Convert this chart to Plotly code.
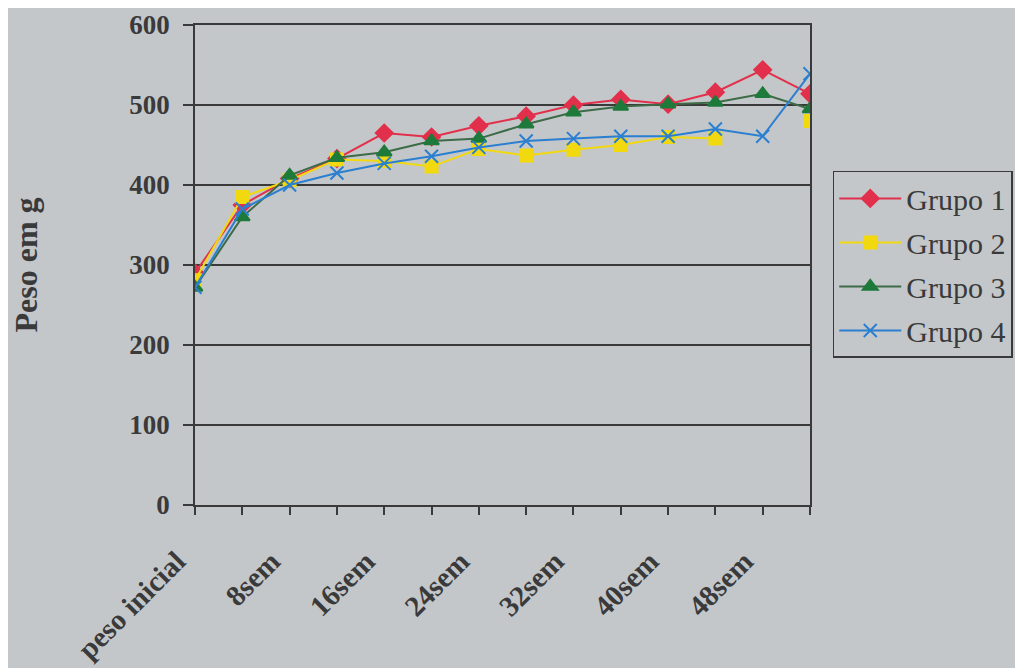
import plotly.graph_objects as go

categories = ["peso inicial", "4sem", "8sem", "12sem", "16sem", "20sem", "24sem",
              "28sem", "32sem", "36sem", "40sem", "44sem", "48sem", "52sem"]
tick_labels = ["peso inicial", "", "8sem", "", "16sem", "", "24sem",
               "", "32sem", "", "40sem", "", "48sem", ""]

grupo1 = [290, 375, 408, 433, 465, 460, 474, 486, 500, 507, 501, 516, 544, 514]
grupo2 = [281, 385, 406, 432, 430, 423, 445, 437, 444, 450, 460, 458, None, 480]
grupo3 = [272, 360, 412, 434, 441, 455, 458, 476, 491, 498, 501, 503, 514, 495]
grupo4 = [272, 370, 400, 415, 427, 436, 447, 455, 458, 461, 461, 470, 461, 539]

series = [
    ("Grupo 1", grupo1, "#E2304C", "#E2304C", "diamond", 13),
    ("Grupo 2", grupo2, "#F2D90F", "#F2D90F", "square", 12),
    ("Grupo 3", grupo3, "#3E6B47", "#1E7A3A", "triangle-up", 13),
    ("Grupo 4", grupo4, "#2A7FD0", "#2A7FD0", "x-thin-open", 13),
]

fig = go.Figure()
for name, vals, lc, mc, sym, size in series:
    fig.add_trace(go.Scatter(
        x=categories, y=vals, name=name, mode="lines+markers",
        line=dict(color=lc, width=2),
        marker=dict(symbol=sym, size=size, color=mc,
                    line=dict(color=mc, width=2)),
        connectgaps=False, legendgroup=name,
    ))

serif = "Liberation Serif"
ink = "#3a3a3a"
bg = "#C3C7CA"
fig.update_layout(
    width=1015, height=660,
    margin=dict(l=187, r=213, t=17, b=163, autoexpand=False),
    paper_bgcolor=bg, plot_bgcolor=bg,
    font=dict(family=serif, color=ink),
    showlegend=True,
    legend=dict(
        x=1.037, y=0.696, xanchor="left", yanchor="top",
        bordercolor=ink, borderwidth=1.5, bgcolor="rgba(0,0,0,0)",
        font=dict(size=30, family=serif, color=ink),
        tracegroupgap=2, itemwidth=62,
    ),
)
fig.update_xaxes(
    type="category", tickmode="array", tickvals=categories, ticktext=tick_labels,
    tickangle=-45, ticks="outside", ticklen=8, tickcolor=ink, tickwidth=1.5,
    showline=True, linecolor=ink, linewidth=1.5, mirror=True,
    showgrid=False, range=[0, 13], automargin=False,
    ticklabelshift=-18, ticklabelstandoff=18,
    tickfont=dict(size=29, family=serif, color=ink, weight="bold"),
)
fig.update_yaxes(
    range=[0, 600], tickmode="linear", tick0=0, dtick=100,
    ticks="outside", ticklen=10, tickcolor=ink, tickwidth=1.5,
    showline=True, linecolor=ink, linewidth=1.5, mirror=True,
    showgrid=True, gridcolor=ink, gridwidth=1.5, zeroline=False,
    automargin=False, ticklabelstandoff=8,
    tickfont=dict(size=27, family=serif, color=ink, weight="bold"),
    title=dict(text="Peso em g", standoff=84,
               font=dict(size=32, family=serif, color=ink, weight="bold")),
)

fig.write_html("out.html")
